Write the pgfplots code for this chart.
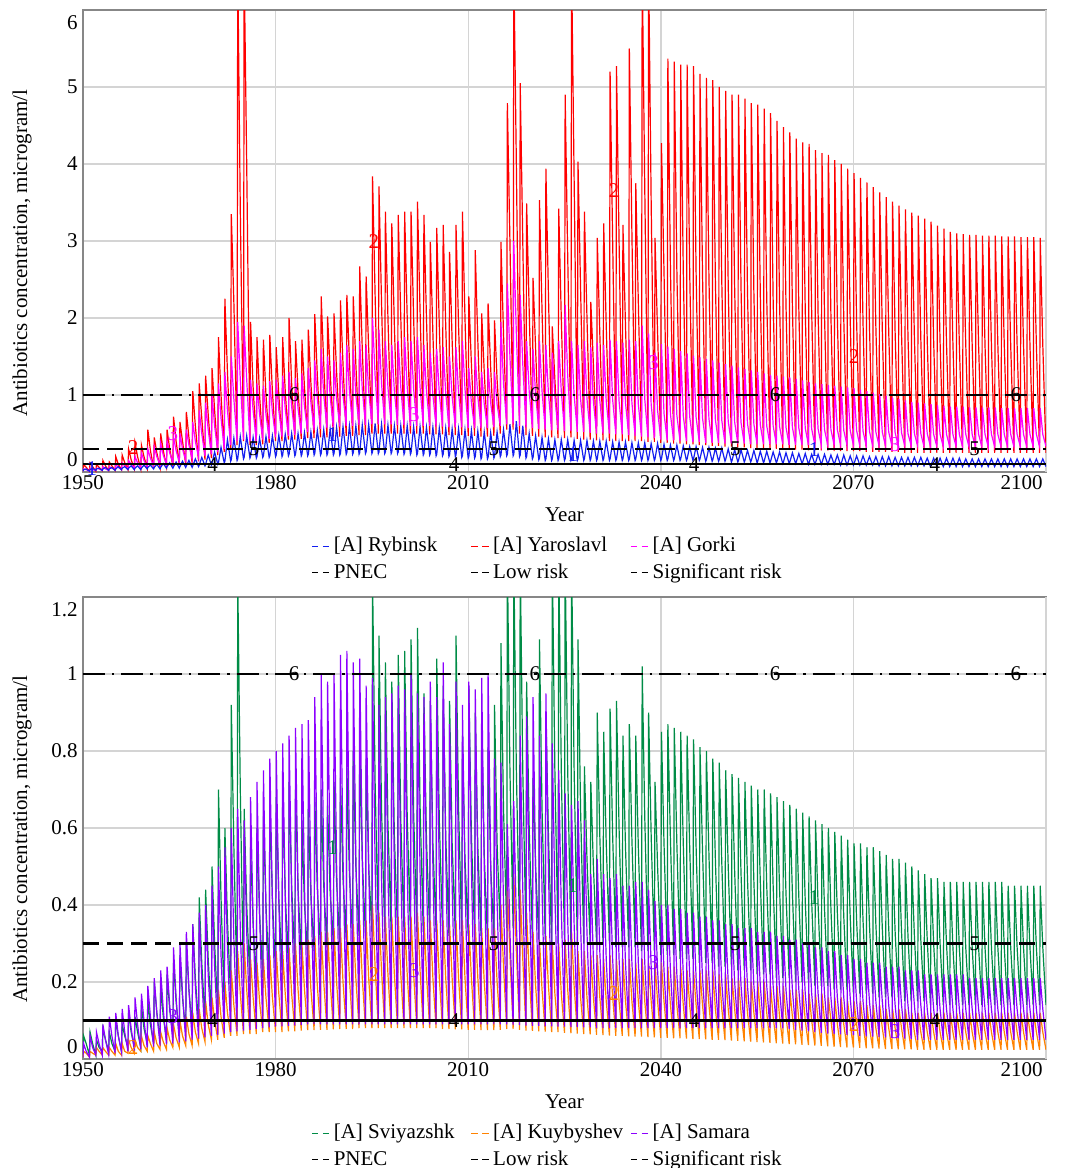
\documentclass[border=0pt]{standalone}
\usepackage{fontspec}
\setmainfont{Liberation Serif}
\usepackage{pgfplots}
\pgfplotsset{compat=1.18}
\usepackage{pgfplotstable}
\definecolor{cBlue}{RGB}{20,30,240}
\definecolor{cRed}{RGB}{255,0,0}
\definecolor{cMag}{RGB}{255,0,255}
\definecolor{cGreen}{RGB}{0,140,70}
\definecolor{cOrange}{RGB}{255,130,0}
\definecolor{cPurple}{RGB}{140,0,255}
\definecolor{cGrid}{RGB}{212,212,212}
\definecolor{cFrame}{RGB}{135,135,135}
\newcommand\fsz{\fontsize{10.5}{12.6}\selectfont}
\tikzset{lbl/.style={font=\fsz}}

% top panel: t, a = Rybinsk, b = Yaroslavl, c = Gorki
\pgfplotstableread{
t a b c
1950 .01 .01 .01
1950.1 .03 .10 .04
1950.5 .04 .06 .03
1951 .01 .01 .01
1951.1 .03 .12 .05
1951.5 .05 .07 .03
1952 .02 .01 .02
1952.1 .04 .10 .05
1952.5 .05 .06 .04
1953 .02 .02 .02
1953.1 .04 .15 .07
1953.5 .06 .08 .04
1954 .02 .02 .02
1954.1 .04 .13 .07
1954.5 .06 .08 .05
1955 .02 .02 .03
1955.1 .04 .20 .10
1955.5 .07 .10 .06
1956 .03 .03 .03
1956.1 .05 .22 .12
1956.5 .07 .12 .08
1957 .03 .03 .04
1957.1 .05 .30 .15
1957.5 .08 .16 .10
1958 .03 .04 .05
1958.1 .05 .38 .20
1958.5 .08 .20 .12
1959 .03 .04 .06
1959.1 .05 .35 .25
1959.5 .09 .20 .15
1960 .04 .05 .07
1960.1 .06 .55 .30
1960.5 .09 .28 .18
1961 .04 .05 .08
1961.1 .06 .45 .33
1961.5 .10 .25 .20
1962 .04 .06 .09
1962.1 .06 .50 .37
1962.5 .11 .28 .22
1963 .05 .07 .10
1963.1 .07 .55 .40
1963.5 .12 .30 .25
1964 .05 .08 .12
1964.1 .07 .72 .45
1964.5 .13 .40 .28
1965 .05 .09 .13
1965.1 .07 .65 .50
1965.5 .14 .40 .30
1966 .06 .10 .15
1966.1 .08 .78 .55
1966.5 .15 .45 .35
1967 .06 .12 .17
1967.1 .08 1.05 .65
1967.5 .17 .60 .40
1968 .07 .14 .19
1968.1 .09 1.15 .80
1968.5 .19 .70 .50
1969 .08 .16 .21
1969.1 .10 1.25 .90
1969.5 .22 .75 .55
1970 .09 .18 .23
1970.1 .11 1.35 1.00
1970.5 .26 .80 .60
1971 .10 .22 .26
1971.1 .12 1.75 1.15
1971.5 .32 1.00 .70
1972 .12 .26 .30
1972.1 .14 2.25 1.30
1972.5 .42 1.30 .80
1973 .14 .30 .35
1973.1 .16 3.35 1.50
1973.5 .44 2.20 .95
1974 .15 .35 .40
1974.1 .17 6.6 1.95
1974.5 .46 3.40 1.20
1975 .17 .40 .42
1975.1 .19 6.6 1.90
1975.5 .47 4.00 1.20
1976 .18 .35 .40
1976.1 .20 1.95 1.20
1976.5 .45 1.10 .80
1977 .18 .35 .40
1977.1 .20 1.75 1.15
1977.5 .44 1.00 .75
1978 .19 .36 .42
1978.1 .21 1.72 1.12
1978.5 .46 1.00 .75
1979 .19 .38 .43
1979.1 .21 1.78 1.18
1979.5 .47 1.05 .78
1980 .20 .40 .45
1980.1 .22 1.62 1.20
1980.5 .48 1.00 .80
1981 .20 .40 .46
1981.1 .22 1.75 1.25
1981.5 .49 1.05 .82
1982 .21 .42 .47
1982.1 .23 2.00 1.30
1982.5 .50 1.15 .85
1983 .21 .42 .48
1983.1 .23 1.70 1.22
1983.5 .50 1.05 .82
1984 .21 .43 .50
1984.1 .23 1.72 1.28
1984.5 .51 1.10 .85
1985 .21 .44 .52
1985.1 .23 1.85 1.35
1985.5 .52 1.15 .90
1986 .22 .44 .54
1986.1 .24 2.05 1.45
1986.5 .54 1.25 .95
1987 .22 .45 .56
1987.1 .24 2.28 1.60
1987.5 .55 1.40 1.00
1988 .22 .45 .57
1988.1 .24 2.02 1.50
1988.5 .56 1.30 .98
1989 .22 .46 .58
1989.1 .24 2.06 1.45
1989.5 .58 1.30 .95
1990 .22 .46 .59
1990.1 .24 2.23 1.55
1990.5 .59 1.40 1.00
1991 .23 .47 .60
1991.1 .25 2.30 1.65
1991.5 .60 1.45 1.05
1992 .23 .47 .60
1992.1 .25 2.28 1.60
1992.5 .60 1.40 1.00
1993 .23 .48 .61
1993.1 .25 2.67 1.70
1993.5 .61 1.60 1.08
1994 .24 .48 .61
1994.1 .26 2.54 1.65
1994.5 .62 1.60 1.05
1995 .24 .50 .62
1995.1 .26 3.84 2.00
1995.5 .63 2.30 1.25
1996 .24 .50 .62
1996.1 .26 3.71 1.85
1996.5 .62 2.20 1.15
1997 .24 .50 .62
1997.1 .26 3.38 1.70
1997.5 .61 2.00 1.10
1998 .24 .50 .62
1998.1 .26 3.23 1.65
1998.5 .60 1.90 1.05
1999 .24 .50 .61
1999.1 .26 3.34 1.70
1999.5 .60 2.00 1.10
2000 .23 .50 .61
2000.1 .25 3.38 1.75
2000.5 .60 2.00 1.10
2001 .23 .50 .60
2001.1 .25 3.38 1.70
2001.5 .59 2.00 1.08
2002 .22 .50 .60
2002.1 .24 3.51 1.75
2002.5 .59 2.10 1.10
2003 .22 .50 .60
2003.1 .24 3.34 1.65
2003.5 .58 2.00 1.05
2004 .22 .49 .60
2004.1 .24 2.99 1.55
2004.5 .58 1.80 1.00
2005 .21 .49 .59
2005.1 .23 3.17 1.60
2005.5 .57 1.90 1.02
2006 .21 .49 .59
2006.1 .23 3.21 1.62
2006.5 .57 1.90 1.03
2007 .20 .48 .58
2007.1 .22 2.86 1.50
2007.5 .56 1.70 .98
2008 .20 .48 .58
2008.1 .22 3.21 1.62
2008.5 .56 1.90 1.03
2009 .19 .48 .58
2009.1 .21 3.38 1.70
2009.5 .55 2.00 1.08
2010 .18 .47 .57
2010.1 .20 2.28 1.35
2010.5 .54 1.40 .90
2011 .18 .47 .57
2011.1 .20 2.88 1.50
2011.5 .53 1.70 .98
2012 .17 .46 .57
2012.1 .19 2.06 1.30
2012.5 .52 1.30 .88
2013 .17 .46 .57
2013.1 .19 2.19 1.35
2013.5 .51 1.35 .90
2014 .18 .47 .58
2014.1 .20 1.97 1.30
2014.5 .52 1.20 .88
2015 .20 .50 .60
2015.1 .22 2.99 1.95
2015.5 .55 1.80 1.15
2016 .21 .55 .62
2016.1 .23 4.79 2.45
2016.5 .62 3.00 1.50
2017 .21 .55 .62
2017.1 .23 6.6 3.00
2017.5 .66 4.00 1.80
2018 .20 .50 .60
2018.1 .22 5.05 2.30
2018.5 .60 3.00 1.40
2019 .18 .48 .58
2019.1 .20 3.49 1.70
2019.5 .50 2.10 1.05
2020 .17 .47 .57
2020.1 .19 2.52 1.60
2020.5 .47 1.60 1.00
2021 .16 .46 .56
2021.1 .18 3.53 1.70
2021.5 .45 2.10 1.05
2022 .15 .45 .55
2022.1 .17 3.94 1.65
2022.5 .43 2.30 1.02
2023 .15 .45 .54
2023.1 .17 1.89 1.55
2023.5 .42 1.20 .98
2024 .15 .44 .54
2024.1 .17 3.42 1.70
2024.5 .42 2.00 1.05
2025 .15 .44 .53
2025.1 .17 4.90 2.17
2025.5 .42 2.80 1.25
2026 .15 .45 .53
2026.1 .17 6.6 1.70
2026.5 .41 3.80 1.00
2027 .15 .43 .52
2027.1 .17 4.03 1.65
2027.5 .41 2.40 .95
2028 .15 .42 .52
2028.1 .17 3.38 1.70
2028.5 .41 2.00 .95
2029 .15 .42 .51
2029.1 .17 2.21 1.62
2029.5 .40 1.40 .92
2030 .15 .41 .50
2030.1 .17 3.04 1.68
2030.5 .40 1.80 .93
2031 .15 .41 .50
2031.1 .17 3.23 1.65
2031.5 .40 1.90 .92
2032 .15 .40 .50
2032.1 .17 5.20 1.72
2032.5 .39 3.00 .94
2033 .15 .40 .49
2033.1 .17 5.27 1.70
2033.5 .39 3.00 .92
2034 .15 .40 .49
2034.1 .17 3.21 1.68
2034.5 .39 1.90 .90
2035 .15 .40 .48
2035.1 .17 5.50 1.72
2035.5 .38 3.10 .90
2036 .15 .40 .47
2036.1 .17 3.75 1.70
2036.5 .38 2.20 .88
2037 .15 .40 .46
2037.1 .17 6.6 1.90
2037.5 .38 3.70 .95
2038 .15 .39 .45
2038.1 .17 6.6 1.80
2038.5 .37 3.50 .88
2039 .15 .39 .44
2039.1 .17 3.04 1.55
2039.5 .37 1.80 .80
2040 .15 .38 .42
2040.1 .17 4.27 1.66
2040.5 .36 2.60 .76
2041 .15 .38 .41
2041.1 .17 5.37 1.63
2041.5 .35 2.65 .75
2042 .15 .37 .41
2042.1 .17 5.33 1.60
2042.5 .35 2.63 .74
2043 .15 .37 .40
2043.1 .17 5.29 1.57
2043.5 .34 2.62 .73
2044 .15 .36 .40
2044.1 .17 5.29 1.54
2044.5 .33 2.60 .72
2045 .15 .36 .39
2045.1 .17 5.27 1.51
2045.5 .33 2.58 .71
2046 .15 .35 .39
2046.1 .17 5.17 1.49
2046.5 .32 2.55 .70
2047 .14 .35 .38
2047.1 .16 5.12 1.47
2047.5 .32 2.52 .69
2048 .14 .34 .38
2048.1 .16 5.09 1.45
2048.5 .31 2.50 .68
2049 .14 .34 .38
2049.1 .16 5.00 1.42
2049.5 .31 2.47 .67
2050 .14 .33 .37
2050.1 .16 4.95 1.40
2050.5 .30 2.43 .66
2051 .13 .33 .37
2051.1 .15 4.90 1.38
2051.5 .29 2.40 .65
2052 .13 .32 .37
2052.1 .15 4.90 1.36
2052.5 .29 2.38 .64
2053 .13 .32 .37
2053.1 .15 4.85 1.34
2053.5 .28 2.35 .63
2054 .13 .31 .36
2054.1 .15 4.79 1.32
2054.5 .28 2.32 .62
2055 .12 .31 .36
2055.1 .14 4.77 1.30
2055.5 .27 2.29 .61
2056 .12 .31 .36
2056.1 .14 4.72 1.28
2056.5 .27 2.26 .60
2057 .12 .30 .36
2057.1 .14 4.66 1.26
2057.5 .26 2.23 .60
2058 .12 .30 .36
2058.1 .14 4.56 1.25
2058.5 .26 2.20 .59
2059 .11 .30 .36
2059.1 .13 4.48 1.24
2059.5 .25 2.17 .58
2060 .11 .29 .35
2060.1 .13 4.41 1.23
2060.5 .25 2.14 .58
2061 .11 .29 .35
2061.1 .13 4.33 1.21
2061.5 .24 2.12 .57
2062 .11 .29 .35
2062.1 .13 4.28 1.19
2062.5 .24 2.10 .57
2063 .10 .28 .35
2063.1 .12 4.26 1.17
2063.5 .23 2.08 .56
2064 .10 .28 .35
2064.1 .12 4.18 1.15
2064.5 .23 2.06 .56
2065 .10 .28 .35
2065.1 .12 4.14 1.14
2065.5 .23 2.04 .55
2066 .10 .28 .35
2066.1 .12 4.12 1.13
2066.5 .22 2.02 .55
2067 .10 .27 .35
2067.1 .12 4.05 1.12
2067.5 .22 2.00 .55
2068 .09 .27 .35
2068.1 .11 4.00 1.11
2068.5 .22 1.99 .54
2069 .09 .27 .35
2069.1 .11 3.94 1.10
2069.5 .21 1.98 .54
2070 .09 .27 .35
2070.1 .11 3.88 1.09
2070.5 .21 1.96 .54
2071 .09 .27 .34
2071.1 .11 3.82 1.07
2071.5 .21 1.93 .53
2072 .09 .26 .34
2072.1 .11 3.76 1.05
2072.5 .20 1.90 .53
2073 .09 .26 .34
2073.1 .11 3.70 1.03
2073.5 .20 1.88 .52
2074 .08 .26 .34
2074.1 .10 3.63 1.01
2074.5 .20 1.85 .52
2075 .08 .26 .34
2075.1 .10 3.57 .99
2075.5 .20 1.83 .52
2076 .08 .26 .34
2076.1 .10 3.51 .97
2076.5 .19 1.81 .51
2077 .08 .26 .34
2077.1 .10 3.46 .95
2077.5 .19 1.79 .51
2078 .08 .25 .34
2078.1 .10 3.41 .93
2078.5 .19 1.77 .50
2079 .08 .25 .34
2079.1 .10 3.37 .91
2079.5 .19 1.75 .50
2080 .08 .25 .34
2080.1 .10 3.33 .90
2080.5 .19 1.73 .50
2081 .08 .25 .33
2081.1 .10 3.29 .89
2081.5 .18 1.71 .50
2082 .07 .25 .33
2082.1 .09 3.25 .88
2082.5 .18 1.70 .49
2083 .07 .25 .33
2083.1 .09 3.20 .87
2083.5 .18 1.69 .49
2084 .07 .25 .33
2084.1 .09 3.16 .86
2084.5 .18 1.68 .49
2085 .07 .25 .33
2085.1 .09 3.12 .85
2085.5 .18 1.67 .49
2086 .07 .25 .33
2086.1 .09 3.10 .85
2086.5 .18 1.66 .49
2087 .07 .25 .33
2087.1 .09 3.09 .85
2087.5 .17 1.66 .49
2088 .07 .25 .33
2088.1 .09 3.08 .84
2088.5 .17 1.65 .49
2089 .07 .25 .33
2089.1 .09 3.08 .84
2089.5 .17 1.65 .49
2090 .07 .25 .33
2090.1 .09 3.07 .84
2090.5 .17 1.65 .49
2091 .07 .25 .33
2091.1 .09 3.07 .84
2091.5 .17 1.65 .49
2092 .07 .25 .33
2092.1 .09 3.07 .84
2092.5 .17 1.65 .49
2093 .07 .25 .33
2093.1 .09 3.06 .83
2093.5 .17 1.65 .49
2094 .07 .25 .33
2094.1 .09 3.06 .83
2094.5 .17 1.65 .49
2095 .07 .25 .33
2095.1 .09 3.06 .83
2095.5 .17 1.65 .49
2096 .07 .25 .33
2096.1 .09 3.05 .83
2096.5 .17 1.65 .49
2097 .07 .25 .33
2097.1 .09 3.05 .83
2097.5 .17 1.65 .49
2098 .07 .25 .33
2098.1 .09 3.05 .83
2098.5 .17 1.65 .49
2099 .07 .25 .33
2099.1 .09 3.04 .83
2099.5 .17 1.65 .49
2100 .07 .25 .33
}\topdata

% bottom panel: t, a = Sviyazshk, b = Kuybyshev, c = Samara
\pgfplotstableread{
t a b c
1950 .01 .005 .005
1950.1 .06 .02 .04
1950.5 .04 .015 .02
1951 .01 .005 .005
1951.1 .07 .02 .06
1951.5 .04 .015 .03
1952 .01 .01 .01
1952.1 .05 .03 .07
1952.5 .03 .02 .04
1953 .02 .01 .01
1953.1 .08 .03 .09
1953.5 .05 .02 .05
1954 .02 .01 .012
1954.1 .07 .03 .11
1954.5 .04 .02 .06
1955 .02 .01 .015
1955.1 .10 .04 .12
1955.5 .06 .02 .06
1956 .02 .01 .018
1956.1 .09 .04 .13
1956.5 .06 .02 .07
1957 .03 .015 .02
1957.1 .12 .05 .14
1957.5 .07 .03 .08
1958 .03 .015 .022
1958.1 .11 .05 .16
1958.5 .07 .03 .09
1959 .03 .02 .025
1959.1 .14 .06 .17
1959.5 .08 .035 .10
1960 .04 .02 .03
1960.1 .15 .06 .19
1960.5 .09 .04 .11
1961 .04 .02 .032
1961.1 .20 .07 .21
1961.5 .12 .04 .12
1962 .05 .025 .035
1962.1 .19 .07 .23
1962.5 .11 .045 .13
1963 .05 .025 .038
1963.1 .22 .08 .24
1963.5 .13 .05 .14
1964 .06 .03 .04
1964.1 .25 .09 .29
1964.5 .15 .055 .16
1965 .06 .03 .043
1965.1 .27 .10 .30
1965.5 .16 .06 .17
1966 .07 .035 .046
1966.1 .30 .11 .33
1966.5 .18 .065 .18
1967 .08 .035 .05
1967.1 .35 .12 .35
1967.5 .21 .07 .19
1968 .09 .04 .053
1968.1 .42 .13 .38
1968.5 .25 .08 .21
1969 .10 .045 .056
1969.1 .44 .15 .40
1969.5 .26 .09 .22
1970 .11 .05 .06
1970.1 .50 .16 .45
1970.5 .30 .10 .24
1971 .12 .05 .063
1971.1 .70 .18 .50
1971.5 .42 .11 .27
1972 .14 .055 .066
1972.1 .60 .20 .55
1972.5 .36 .12 .29
1973 .16 .06 .07
1973.1 .92 .23 .60
1973.5 .55 .14 .31
1974 .18 .06 .072
1974.1 1.25 .28 .65
1974.5 .70 .17 .34
1975 .20 .065 .074
1975.1 .65 .30 .62
1975.5 .40 .18 .33
1976 .20 .065 .076
1976.1 .55 .26 .68
1976.5 .35 .16 .36
1977 .20 .065 .078
1977.1 .60 .25 .72
1977.5 .38 .15 .38
1978 .21 .07 .08
1978.1 .63 .26 .75
1978.5 .40 .16 .39
1979 .21 .07 .082
1979.1 .66 .27 .78
1979.5 .42 .16 .41
1980 .22 .07 .084
1980.1 .68 .28 .80
1980.5 .42 .17 .41
1981 .23 .07 .085
1981.1 .70 .28 .82
1981.5 .43 .17 .42
1982 .24 .072 .086
1982.1 .72 .29 .84
1982.5 .45 .17 .43
1983 .25 .072 .087
1983.1 .70 .30 .86
1983.5 .44 .18 .44
1984 .26 .074 .088
1984.1 .62 .30 .87
1984.5 .40 .18 .45
1985 .27 .075 .09
1985.1 .65 .31 .88
1985.5 .42 .18 .45
1986 .28 .075 .09
1986.1 .68 .32 .94
1986.5 .44 .19 .48
1987 .29 .076 .09
1987.1 .70 .33 1.00
1987.5 .45 .20 .51
1988 .29 .076 .09
1988.1 .66 .33 .98
1988.5 .43 .20 .50
1989 .30 .077 .09
1989.1 .72 .34 1.00
1989.5 .46 .20 .51
1990 .30 .078 .09
1990.1 .73 .34 1.05
1990.5 .47 .20 .53
1991 .31 .078 .09
1991.1 .76 .35 1.06
1991.5 .48 .21 .54
1992 .31 .078 .09
1992.1 .80 .35 1.03
1992.5 .50 .21 .53
1993 .32 .08 .09
1993.1 .82 .36 1.04
1993.5 .52 .21 .53
1994 .32 .08 .09
1994.1 .78 .36 .97
1994.5 .50 .21 .50
1995 .33 .08 .09
1995.1 1.25 .40 .99
1995.5 .72 .24 .51
1996 .33 .08 .09
1996.1 1.10 .38 .92
1996.5 .65 .23 .47
1997 .33 .08 .09
1997.1 1.03 .37 .94
1997.5 .61 .22 .48
1998 .33 .08 .09
1998.1 .98 .37 .95
1998.5 .58 .22 .49
1999 .33 .08 .09
1999.1 1.05 .37 .97
1999.5 .62 .22 .50
2000 .33 .08 .09
2000.1 1.06 .37 .96
2000.5 .63 .22 .49
2001 .33 .08 .09
2001.1 1.09 .37 1.00
2001.5 .64 .22 .51
2002 .33 .08 .09
2002.1 1.12 .38 .95
2002.5 .66 .23 .49
2003 .33 .08 .09
2003.1 .95 .37 .94
2003.5 .57 .22 .48
2004 .33 .08 .09
2004.1 .93 .36 .98
2004.5 .56 .21 .50
2005 .33 .08 .09
2005.1 1.04 .36 .94
2005.5 .62 .21 .48
2006 .33 .078 .09
2006.1 .97 .36 1.03
2006.5 .58 .21 .53
2007 .32 .078 .09
2007.1 .93 .35 .87
2007.5 .56 .21 .45
2008 .32 .077 .09
2008.1 1.10 .36 .98
2008.5 .65 .21 .50
2009 .32 .077 .09
2009.1 .84 .36 .92
2009.5 .52 .21 .47
2010 .32 .076 .09
2010.1 .97 .35 .98
2010.5 .58 .21 .50
2011 .32 .076 .09
2011.1 .90 .35 .96
2011.5 .55 .21 .49
2012 .32 .075 .09
2012.1 .87 .34 .99
2012.5 .53 .20 .50
2013 .31 .075 .09
2013.1 .81 .34 1.00
2013.5 .50 .20 .51
2014 .32 .075 .09
2014.1 .92 .34 .78
2014.5 .56 .20 .41
2015 .33 .076 .09
2015.1 1.08 .40 .77
2015.5 .65 .24 .40
2016 .34 .078 .09
2016.1 1.30 .46 .61
2016.5 .75 .27 .33
2017 .34 .078 .088
2017.1 1.30 .48 .67
2017.5 .75 .28 .36
2018 .33 .076 .088
2018.1 1.30 .44 .84
2018.5 .75 .26 .44
2019 .32 .074 .087
2019.1 .98 .38 .89
2019.5 .60 .22 .46
2020 .31 .073 .086
2020.1 .73 .33 .94
2020.5 .50 .19 .49
2021 .31 .072 .086
2021.1 1.09 .31 .84
2021.5 .65 .18 .44
2022 .31 .071 .085
2022.1 .90 .32 .95
2022.5 .58 .19 .49
2023 .30 .07 .085
2023.1 1.30 .30 .82
2023.5 .75 .17 .43
2024 .30 .07 .084
2024.1 1.30 .30 .75
2024.5 .75 .17 .39
2025 .30 .068 .084
2025.1 1.30 .31 .69
2025.5 .75 .18 .36
2026 .30 .067 .083
2026.1 1.30 .33 .66
2026.5 .75 .19 .35
2027 .30 .066 .083
2027.1 1.09 .28 .67
2027.5 .65 .16 .35
2028 .30 .065 .082
2028.1 .76 .28 .62
2028.5 .52 .16 .33
2029 .30 .064 .082
2029.1 .72 .27 .48
2029.5 .50 .16 .26
2030 .30 .063 .08
2030.1 .90 .27 .52
2030.5 .58 .16 .28
2031 .30 .062 .08
2031.1 .85 .26 .48
2031.5 .56 .15 .26
2032 .30 .061 .08
2032.1 .91 .27 .47
2032.5 .58 .16 .26
2033 .29 .06 .08
2033.1 .93 .26 .48
2033.5 .60 .15 .26
2034 .29 .06 .08
2034.1 .84 .26 .45
2034.5 .55 .15 .25
2035 .29 .059 .08
2035.1 .87 .26 .45
2035.5 .57 .15 .25
2036 .29 .058 .08
2036.1 .84 .25 .46
2036.5 .55 .15 .25
2037 .28 .058 .08
2037.1 1.02 .26 .46
2037.5 .63 .15 .25
2038 .28 .057 .08
2038.1 .90 .25 .44
2038.5 .58 .15 .24
2039 .28 .056 .08
2039.1 .72 .25 .41
2039.5 .50 .15 .23
2040 .27 .055 .08
2040.1 .85 .25 .40
2040.5 .56 .15 .23
2041 .27 .055 .08
2041.1 .87 .24 .40
2041.5 .57 .14 .23
2042 .27 .054 .08
2042.1 .86 .24 .39
2042.5 .56 .14 .22
2043 .26 .054 .08
2043.1 .85 .24 .39
2043.5 .56 .14 .22
2044 .26 .053 .08
2044.1 .84 .23 .38
2044.5 .55 .14 .22
2045 .26 .052 .08
2045.1 .83 .23 .38
2045.5 .55 .14 .21
2046 .25 .052 .08
2046.1 .81 .23 .37
2046.5 .54 .14 .21
2047 .25 .051 .08
2047.1 .80 .23 .37
2047.5 .53 .14 .21
2048 .25 .05 .08
2048.1 .78 .23 .36
2048.5 .52 .13 .20
2049 .24 .05 .08
2049.1 .77 .22 .36
2049.5 .51 .13 .20
2050 .24 .049 .08
2050.1 .75 .22 .35
2050.5 .50 .13 .20
2051 .24 .048 .08
2051.1 .74 .21 .35
2051.5 .49 .13 .20
2052 .23 .047 .08
2052.1 .73 .21 .34
2052.5 .48 .12 .19
2053 .23 .046 .08
2053.1 .72 .21 .34
2053.5 .47 .12 .19
2054 .23 .045 .08
2054.1 .71 .20 .34
2054.5 .46 .12 .19
2055 .22 .044 .08
2055.1 .70 .20 .33
2055.5 .46 .12 .19
2056 .22 .043 .08
2056.1 .70 .20 .33
2056.5 .45 .12 .19
2057 .22 .042 .08
2057.1 .69 .19 .33
2057.5 .45 .11 .19
2058 .21 .041 .08
2058.1 .68 .19 .32
2058.5 .44 .11 .18
2059 .21 .04 .08
2059.1 .67 .19 .32
2059.5 .43 .11 .18
2060 .21 .039 .078
2060.1 .66 .18 .31
2060.5 .43 .11 .18
2061 .20 .038 .076
2061.1 .65 .18 .31
2061.5 .42 .10 .18
2062 .20 .037 .074
2062.1 .64 .18 .30
2062.5 .41 .10 .17
2063 .20 .036 .072
2063.1 .63 .17 .30
2063.5 .41 .10 .17
2064 .19 .035 .07
2064.1 .62 .17 .29
2064.5 .40 .10 .17
2065 .19 .034 .068
2065.1 .61 .17 .29
2065.5 .39 .10 .17
2066 .19 .033 .066
2066.1 .60 .16 .28
2066.5 .39 .10 .16
2067 .18 .032 .065
2067.1 .59 .16 .28
2067.5 .38 .09 .16
2068 .18 .031 .064
2068.1 .58 .16 .27
2068.5 .37 .09 .16
2069 .18 .03 .063
2069.1 .57 .15 .27
2069.5 .37 .09 .16
2070 .17 .03 .062
2070.1 .56 .15 .26
2070.5 .36 .09 .15
2071 .17 .029 .06
2071.1 .56 .15 .26
2071.5 .36 .09 .15
2072 .17 .028 .059
2072.1 .55 .14 .25
2072.5 .35 .08 .15
2073 .17 .028 .058
2073.1 .55 .14 .25
2073.5 .35 .08 .15
2074 .16 .027 .057
2074.1 .54 .14 .25
2074.5 .34 .08 .15
2075 .16 .026 .056
2075.1 .53 .13 .24
2075.5 .34 .08 .14
2076 .16 .026 .055
2076.1 .52 .13 .24
2076.5 .33 .08 .14
2077 .16 .025 .054
2077.1 .52 .13 .24
2077.5 .33 .08 .14
2078 .15 .025 .053
2078.1 .51 .13 .23
2078.5 .32 .08 .14
2079 .15 .025 .052
2079.1 .50 .12 .23
2079.5 .32 .07 .14
2080 .15 .024 .05
2080.1 .49 .12 .23
2080.5 .31 .07 .14
2081 .15 .024 .05
2081.1 .48 .12 .22
2081.5 .31 .07 .13
2082 .14 .024 .05
2082.1 .47 .12 .22
2082.5 .30 .07 .13
2083 .14 .024 .05
2083.1 .47 .12 .22
2083.5 .30 .07 .13
2084 .14 .024 .05
2084.1 .46 .12 .22
2084.5 .30 .07 .13
2085 .14 .024 .05
2085.1 .46 .12 .22
2085.5 .29 .07 .13
2086 .14 .024 .05
2086.1 .46 .12 .22
2086.5 .29 .07 .13
2087 .14 .024 .05
2087.1 .46 .12 .22
2087.5 .29 .07 .13
2088 .14 .024 .05
2088.1 .46 .12 .21
2088.5 .29 .07 .13
2089 .14 .024 .05
2089.1 .46 .12 .21
2089.5 .29 .07 .13
2090 .14 .024 .05
2090.1 .46 .12 .21
2090.5 .29 .07 .13
2091 .14 .024 .05
2091.1 .46 .12 .21
2091.5 .29 .07 .13
2092 .14 .024 .05
2092.1 .46 .12 .21
2092.5 .29 .07 .13
2093 .14 .024 .05
2093.1 .46 .12 .21
2093.5 .29 .07 .13
2094 .14 .024 .05
2094.1 .45 .12 .21
2094.5 .29 .07 .13
2095 .14 .024 .05
2095.1 .45 .12 .21
2095.5 .29 .07 .13
2096 .14 .024 .05
2096.1 .45 .12 .21
2096.5 .29 .07 .13
2097 .14 .024 .05
2097.1 .45 .12 .21
2097.5 .29 .07 .13
2098 .14 .024 .05
2098.1 .45 .12 .21
2098.5 .29 .07 .13
2099 .14 .024 .05
2099.1 .45 .12 .21
2099.5 .29 .07 .13
2100 .14 .024 .05
}\botdata

\pgfplotsset{
  panel/.style={
    scale only axis, width=481.5pt, height=231pt,
    xmin=1950, xmax=2100,
    clip mode=individual,
    xtick={1950,1980,2010,2040,2070},
    extra x ticks={2100},
    extra x tick style={xticklabel style={anchor=north east, inner sep=1.5pt}},
    grid=major,
    major grid style={cGrid, line width=0.7pt},
    axis line style={cFrame, line width=0.8pt},
    major tick length=0pt,
    tick style={draw=none},
    /pgf/number format/1000 sep={},
    /pgf/number format/assume math mode=true,
    tick label style={font=\fsz},
    xticklabel style={inner sep=1.5pt},
    yticklabel style={inner sep=0pt, xshift=-2.5pt},
    label style={font=\fsz},
    xlabel={Year},
    xlabel style={at={(axis description cs:0.5,0)}, anchor=center, yshift=-21.5pt},
    ylabel={Antibiotics concentration, microgram/l},
    ylabel style={at={(axis description cs:-0.0633,0.474)}, anchor=center},
    legend columns=3,
    legend cell align=left,
    legend style={draw=none, fill=none, font=\fsz,
      at={(axis description cs:0,0)}, anchor=north west, xshift=114pt, yshift=-30.5pt,
      inner sep=0pt, row sep=0.5pt,
      /tikz/every even column/.append style={column sep=0pt}},
    legend image code/.code={\draw[##1] (0pt,0pt) -- (3.2pt,0pt) (5.4pt,0pt) -- (8.6pt,0pt);},
  },
  sline/.style={line width=0.6pt, forget plot},
}

\begin{document}
\begin{tikzpicture}
\path[use as bounding box] (0,0) rectangle (536.5pt,-584pt);

% ---------------- top panel
\begin{axis}[panel, at={(41.5pt,-5pt)}, anchor=north west,
  ymin=0, ymax=6, ytick={0,1,2,3,4,5,6}, yticklabels={,1,2,3,4,5,}]
\addplot[cRed, sline] table[x=t, y=b] {\topdata};
\addplot[cMag, sline] table[x=t, y=c] {\topdata};
\addplot[cBlue, sline] table[x=t, y=a] {\topdata};
\addplot[black, line width=1.1pt, forget plot] coordinates {(1950,0.1) (2100,0.1)};
\addplot[black, line width=1.1pt, dash pattern=on 8pt off 4pt, forget plot] coordinates {(1950,0.3) (2100,0.3)};
\addplot[black, line width=1.1pt, dash pattern=on 11pt off 3.5pt on 1.2pt off 3.5pt, forget plot] coordinates {(1950,1) (2100,1)};
\addlegendimage{cBlue, line width=0.6pt}\addlegendentry{\makebox[66.5pt][l]{[A] Rybinsk}}
\addlegendimage{cRed, line width=0.6pt}\addlegendentry{\makebox[66.5pt][l]{[A] Yaroslavl}}
\addlegendimage{cMag, line width=0.6pt}\addlegendentry{\makebox[66.5pt][l]{[A] Gorki}}
\addlegendimage{black, line width=0.6pt}\addlegendentry{\makebox[66.5pt][l]{PNEC}}
\addlegendimage{black, line width=0.6pt}\addlegendentry{\makebox[66.5pt][l]{Low risk}}
\addlegendimage{black, line width=0.6pt}\addlegendentry{\makebox[66.5pt][l]{Significant risk}}
\node[lbl, anchor=south east, inner sep=0pt, xshift=-2.5pt, yshift=2.5pt] at (axis cs:1950,0) {0};
\node[lbl, anchor=north east, inner sep=0pt, xshift=-2.5pt, yshift=-2.5pt] at (axis cs:1950,6) {6};
\node[lbl, text=cBlue] at (axis cs:1951.4,0.05) {1};
\node[lbl, text=cBlue] at (axis cs:1988.9,0.48) {1};
\node[lbl, text=cBlue] at (axis cs:2026.3,0.22) {1};
\node[lbl, text=cBlue] at (axis cs:2063.9,0.29) {1};
\node[lbl, text=cRed] at (axis cs:1957.8,0.32) {2};
\node[lbl, text=cRed] at (axis cs:1995.3,2.99) {2};
\node[lbl, text=cRed] at (axis cs:2032.7,3.66) {2};
\node[lbl, text=cRed] at (axis cs:2070.1,1.50) {2};
\node[lbl, text=cMag] at (axis cs:1964.0,0.50) {3};
\node[lbl, text=cMag] at (axis cs:2001.6,0.74) {3};
\node[lbl, text=cMag] at (axis cs:2038.9,1.42) {3};
\node[lbl, text=cMag] at (axis cs:2076.5,0.35) {3};
\node[lbl] at (axis cs:1970.2,0.1) {4};
\node[lbl] at (axis cs:2007.8,0.1) {4};
\node[lbl] at (axis cs:2045.2,0.1) {4};
\node[lbl] at (axis cs:2082.7,0.1) {4};
\node[lbl] at (axis cs:1976.6,0.3) {5};
\node[lbl] at (axis cs:2014.0,0.3) {5};
\node[lbl] at (axis cs:2051.6,0.3) {5};
\node[lbl] at (axis cs:2088.9,0.3) {5};
\node[lbl] at (axis cs:1982.9,1.0) {6};
\node[lbl] at (axis cs:2020.4,1.0) {6};
\node[lbl] at (axis cs:2057.8,1.0) {6};
\node[lbl] at (axis cs:2095.3,1.0) {6};
\end{axis}

% ---------------- bottom panel
\begin{axis}[panel, at={(41.5pt,-298.5pt)}, anchor=north west,
  ymin=0, ymax=1.2, ytick={0,0.2,0.4,0.6,0.8,1,1.2}, yticklabels={,0.2,0.4,0.6,0.8,1,},
  ylabel style={at={(axis description cs:-0.0633,0.476)}}]
\addplot[cGreen, sline] table[x=t, y=a] {\botdata};
\addplot[cOrange, sline] table[x=t, y=b] {\botdata};
\addplot[cPurple, sline] table[x=t, y=c] {\botdata};
\addplot[black, line width=1.1pt, forget plot] coordinates {(1950,0.1) (2100,0.1)};
\addplot[black, line width=1.1pt, dash pattern=on 8pt off 4pt, forget plot] coordinates {(1950,0.3) (2100,0.3)};
\addplot[black, line width=1.1pt, dash pattern=on 11pt off 3.5pt on 1.2pt off 3.5pt, forget plot] coordinates {(1950,1) (2100,1)};
\addlegendimage{cGreen, line width=0.6pt}\addlegendentry{\makebox[66.5pt][l]{[A] Sviyazshk}}
\addlegendimage{cOrange, line width=0.6pt}\addlegendentry{\makebox[66.5pt][l]{[A] Kuybyshev}}
\addlegendimage{cPurple, line width=0.6pt}\addlegendentry{\makebox[66.5pt][l]{[A] Samara}}
\addlegendimage{black, line width=0.6pt}\addlegendentry{\makebox[66.5pt][l]{PNEC}}
\addlegendimage{black, line width=0.6pt}\addlegendentry{\makebox[66.5pt][l]{Low risk}}
\addlegendimage{black, line width=0.6pt}\addlegendentry{\makebox[66.5pt][l]{Significant risk}}
\node[lbl, anchor=south east, inner sep=0pt, xshift=-2.5pt, yshift=2.5pt] at (axis cs:1950,0) {0};
\node[lbl, anchor=north east, inner sep=0pt, xshift=-2.5pt, yshift=-2.5pt] at (axis cs:1950,1.2) {1.2};
\node[lbl, text=cGreen] at (axis cs:1988.9,0.55) {1};
\node[lbl, text=cGreen] at (axis cs:2026.3,0.45) {1};
\node[lbl, text=cGreen] at (axis cs:2063.9,0.42) {1};
\node[lbl, text=cOrange] at (axis cs:1957.8,0.03) {2};
\node[lbl, text=cOrange] at (axis cs:1995.3,0.22) {2};
\node[lbl, text=cOrange] at (axis cs:2032.7,0.17) {2};
\node[lbl, text=cOrange] at (axis cs:2070.1,0.09) {2};
\node[lbl, text=cPurple] at (axis cs:1964.0,0.11) {3};
\node[lbl, text=cPurple] at (axis cs:2001.6,0.23) {3};
\node[lbl, text=cPurple] at (axis cs:2038.9,0.25) {3};
\node[lbl, text=cPurple] at (axis cs:2076.5,0.07) {3};
\node[lbl] at (axis cs:1970.2,0.1) {4};
\node[lbl] at (axis cs:2007.8,0.1) {4};
\node[lbl] at (axis cs:2045.2,0.1) {4};
\node[lbl] at (axis cs:2082.7,0.1) {4};
\node[lbl] at (axis cs:1976.6,0.3) {5};
\node[lbl] at (axis cs:2014.0,0.3) {5};
\node[lbl] at (axis cs:2051.6,0.3) {5};
\node[lbl] at (axis cs:2088.9,0.3) {5};
\node[lbl] at (axis cs:1982.9,1.0) {6};
\node[lbl] at (axis cs:2020.4,1.0) {6};
\node[lbl] at (axis cs:2057.8,1.0) {6};
\node[lbl] at (axis cs:2095.3,1.0) {6};
\end{axis}
\end{tikzpicture}
\end{document}
